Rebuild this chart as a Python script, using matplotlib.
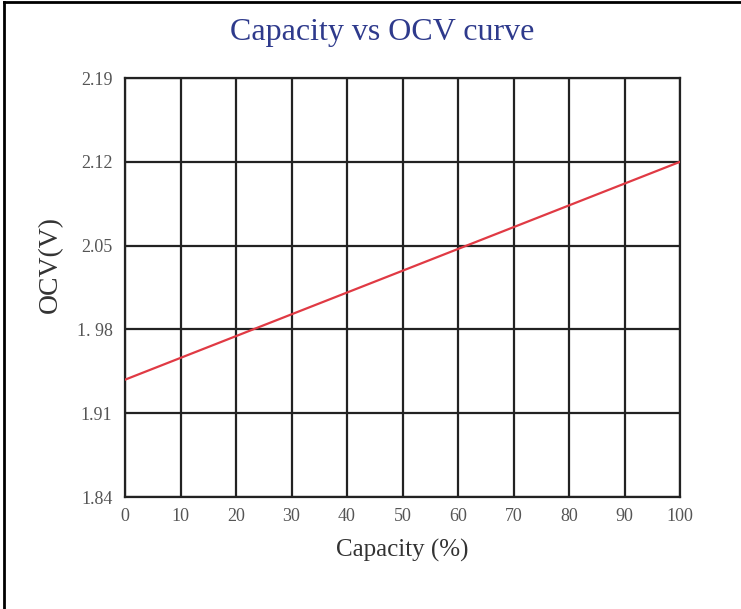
import matplotlib
matplotlib.use("Agg")
import matplotlib.pyplot as plt
from matplotlib.lines import Line2D

# data
capacity = [0, 100]
ocv = [1.938, 2.12]

x_ticks = [0, 10, 20, 30, 40, 50, 60, 70, 80, 90, 100]
y_ticks = [1.84, 1.91, 1.98, 2.05, 2.12, 2.19]
y_tick_labels = ["1.84", "1.91", "1. 98", "2.05", "2.12", "2.19"]

plt.rcParams['font.family'] = ['Liberation Serif', 'DejaVu Serif']

fig = plt.figure(figsize=(7.41, 6.09), dpi=100)
ax = fig.add_axes([0.1687, 0.1839, 0.749, 0.688])

ax.plot(capacity, ocv, color='#e03a44', linewidth=1.6, zorder=3)

ax.set_xlim(0, 100)
ax.set_ylim(1.84, 2.19)
ax.set_xticks(x_ticks)
ax.set_yticks(y_ticks)
ax.set_yticklabels(y_tick_labels)
ax.grid(True, color='#222222', linewidth=1.6)
ax.tick_params(length=0, labelsize=13, labelcolor='#555555')
ax.tick_params(axis='x', pad=8)
ax.tick_params(axis='y', pad=9)
for s in ax.spines.values():
    s.set_color('#222222')
    s.set_linewidth(1.6)

ax.set_xlabel('Capacity (%)', fontsize=18, color='#333333', labelpad=10)
ax.set_ylabel('OCV(V)', fontsize=20, color='#333333')
ax.yaxis.set_label_coords(-0.112, 0.554)

fig.text(0.516, 0.946, 'Capacity vs OCV curve', ha='center', va='center',
         fontsize=23, color='#2e3a8c')

# page border (top and left only)
fig.add_artist(Line2D([0.0055, 1], [0.9975, 0.9975], color='black', linewidth=2,
                      transform=fig.transFigure))
fig.add_artist(Line2D([0.0055, 0.0055], [0, 0.9975], color='black', linewidth=2,
                      transform=fig.transFigure))

fig.savefig('out.png', dpi=100)
